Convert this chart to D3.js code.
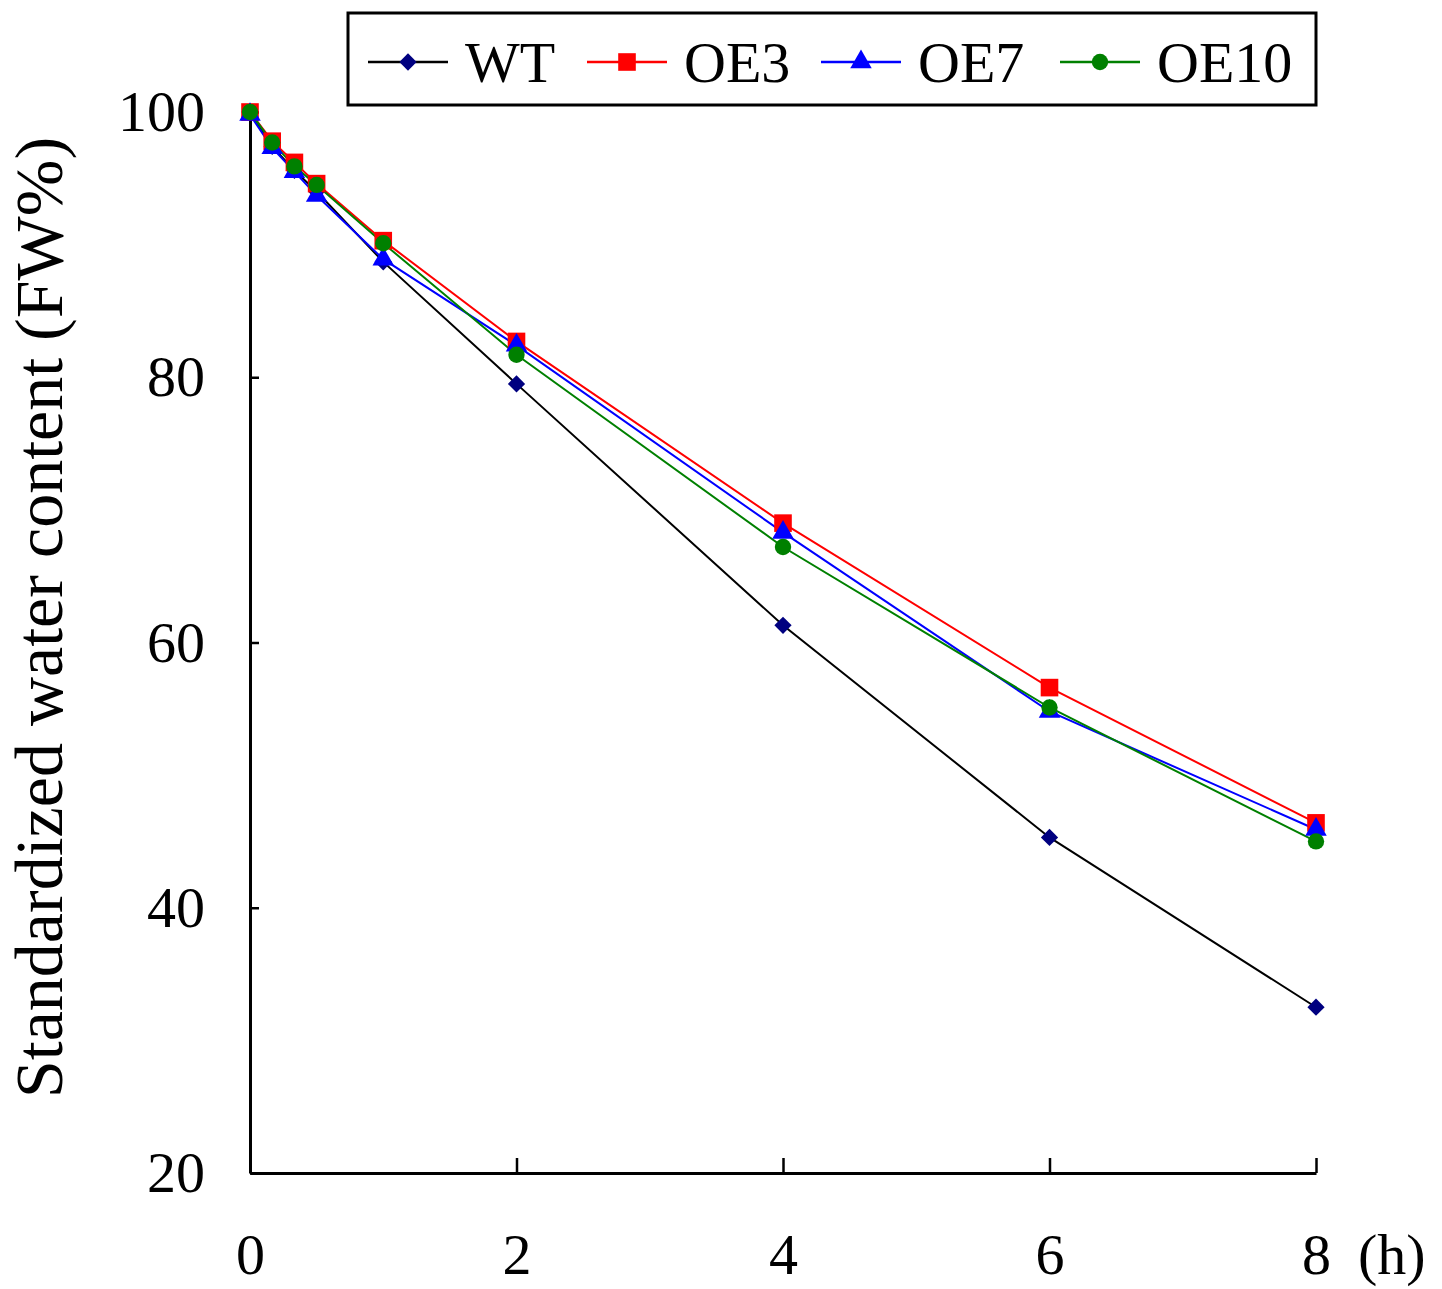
<!DOCTYPE html>
<html>
<head>
<meta charset="utf-8">
<script src="https://cdn.jsdelivr.net/npm/d3@7"></script>
<style>
  html, body { margin: 0; padding: 0; background: #fff; }
  svg text { font-family: "Liberation Serif", "Times New Roman", serif; fill: #000; }
</style>
</head>
<body>
<div id="chart"></div>
<script>
// time points (h)
const hours = [0, 1/6, 1/3, 0.5, 1, 2, 4, 6, 8];
const xTicks = [0, 2, 4, 6, 8];
const yTicks = [20, 40, 60, 80, 100];

// standardized water content (FW%)
const wt   = [100, 97.4, 95.6, 94.0, 88.7, 79.5, 61.3, 45.3, 32.5];
const oe3  = [100, 97.8, 96.2, 94.6, 90.3, 82.7, 69.0, 56.6, 46.4];
const oe7  = [99.8, 97.3, 95.5, 93.7, 88.9, 82.4, 68.3, 54.8, 45.9];
const oe10 = [100, 97.7, 95.9, 94.5, 90.1, 81.7, 67.2, 55.1, 45.0];

const series = [
  { name: "WT",   values: wt,   line: "#000000", fill: "#000080", symbol: d3.symbolDiamond2, size: 190 },
  { name: "OE3",  values: oe3,  line: "#ff0000", fill: "#ff0000", symbol: d3.symbolSquare,   size: 310 },
  { name: "OE7",  values: oe7,  line: "#0000ff", fill: "#0000ff", symbol: d3.symbolTriangle, size: 200 },
  { name: "OE10", values: oe10, line: "#008000", fill: "#008000", symbol: d3.symbolCircle,   size: 210 }
];

const W = 1442, H = 1289;
const margin = { top: 112, right: 126, bottom: 116, left: 250 };

const svg = d3.select("#chart").append("svg")
  .attr("width", W)
  .attr("height", H);

const x = d3.scaleLinear().domain([0, 8]).range([margin.left, W - margin.right]);
const y = d3.scaleLinear().domain([20, 100]).range([H - margin.bottom, margin.top]);

// y axis
const yAxis = svg.append("g")
  .attr("transform", `translate(${margin.left},0)`)
  .call(d3.axisLeft(y).tickValues(yTicks).tickSizeInner(-9).tickSizeOuter(0).tickPadding(45));
yAxis.select(".domain").attr("stroke-width", 3);
yAxis.selectAll(".tick line").attr("stroke-width", 2.5);
yAxis.selectAll(".tick text")
  .attr("font-size", 58)
  .attr("font-family", "Liberation Serif");

// x axis
const xAxis = svg.append("g")
  .attr("transform", `translate(0,${H - margin.bottom})`)
  .call(d3.axisBottom(x).tickValues(xTicks).tickSizeInner(-15).tickSizeOuter(0));
xAxis.select(".domain").attr("stroke-width", 3);
xAxis.selectAll(".tick line").attr("stroke-width", 2.5);
xAxis.selectAll(".tick text")
  .attr("y", 101)
  .attr("dy", null)
  .attr("font-size", 58)
  .attr("font-family", "Liberation Serif");

svg.append("text")
  .attr("x", 1358)
  .attr("y", 1274)
  .attr("font-size", 58)
  .text("(h)");

// y axis title
svg.append("text")
  .attr("transform", `translate(62,${(130 + 1105) / 2}) rotate(-90)`)
  .attr("text-anchor", "middle")
  .attr("font-size", 68)
  .text("Standardized water content (FW%)");

// lines + markers
const line = d3.line()
  .x((d, i) => x(hours[i]))
  .y(d => y(d));

series.forEach(s => {
  svg.append("path")
    .datum(s.values)
    .attr("fill", "none")
    .attr("stroke", s.line)
    .attr("stroke-width", 2)
    .attr("d", line);
});

series.forEach(s => {
  svg.append("g").selectAll("path")
    .data(s.values)
    .join("path")
    .attr("transform", (d, i) => `translate(${x(hours[i])},${y(d)})`)
    .attr("d", d3.symbol().type(s.symbol).size(s.size))
    .attr("fill", s.fill);
});

// legend
const legend = svg.append("g");
legend.append("rect")
  .attr("x", 348)
  .attr("y", 13)
  .attr("width", 968)
  .attr("height", 92)
  .attr("fill", "#fff")
  .attr("stroke", "#000")
  .attr("stroke-width", 3);

const legendX = [368, 587, 821, 1060];
series.forEach((s, i) => {
  const g = legend.append("g").attr("transform", `translate(${legendX[i]},62)`);
  g.append("line")
    .attr("x1", 0).attr("x2", 80)
    .attr("stroke", s.line)
    .attr("stroke-width", 2.5);
  g.append("path")
    .attr("transform", "translate(40,0)")
    .attr("d", d3.symbol().type(s.symbol).size(s.size))
    .attr("fill", s.fill);
  g.append("text")
    .attr("x", 97)
    .attr("y", 20)
    .attr("font-size", 58)
    .text(s.name);
});
</script>
</body>
</html>
